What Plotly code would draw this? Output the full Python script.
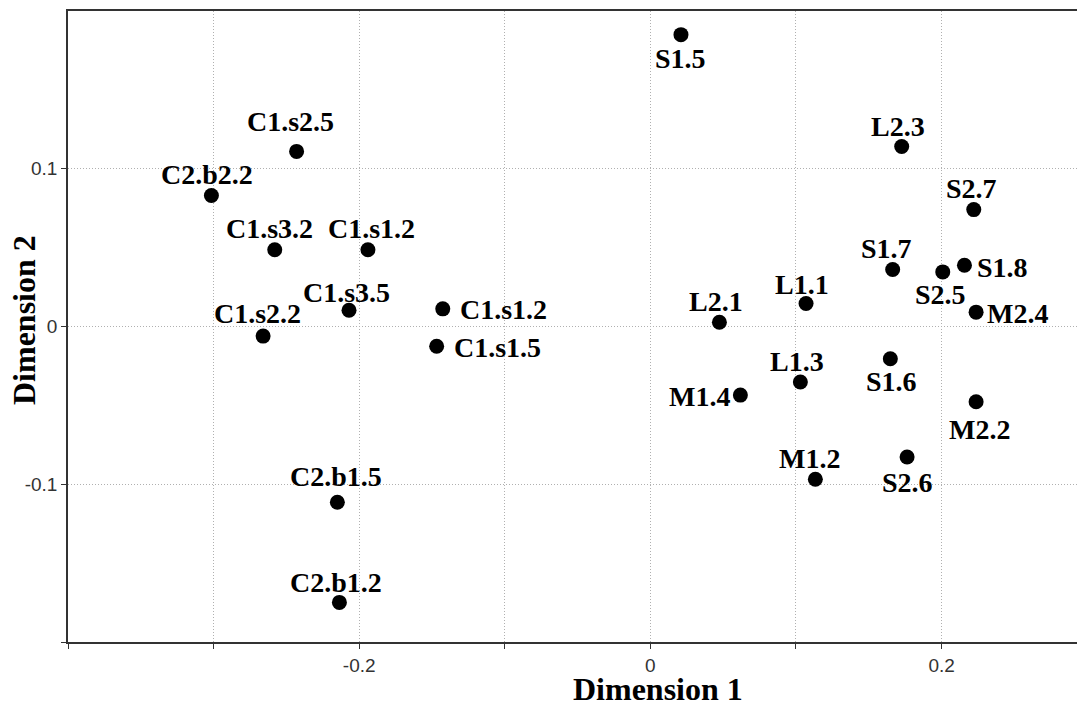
import plotly.graph_objects as go

labels = ["S1.5", "C1.s2.5", "C2.b2.2", "C1.s3.2", "C1.s1.2", "C1.s3.5", "C1.s2.2",
          "C1.s1.2", "C1.s1.5", "C2.b1.5", "C2.b1.2",
          "L2.3", "S2.7", "S1.7", "S2.5", "S1.8", "L1.1", "L2.1", "M2.4",
          "S1.6", "L1.3", "M1.4", "M2.2", "S2.6", "M1.2"]
dim1 = [0.021, -0.243, -0.3015, -0.258, -0.194, -0.207, -0.266,
        -0.1426, -0.1468, -0.215, -0.2136,
        0.1726, 0.2221, 0.1664, 0.2008, 0.2157, 0.1069, 0.0474, 0.2237,
        0.1648, 0.1030, 0.0618, 0.2237, 0.1763, 0.1133]
dim2 = [0.185, 0.111, 0.083, 0.0487, 0.0487, 0.0103, -0.0061,
        0.0112, -0.0125, -0.1114, -0.1749,
        0.1141, 0.0741, 0.0361, 0.0346, 0.0388, 0.0146, 0.0027, 0.0091,
        -0.0204, -0.0352, -0.0435, -0.0477, -0.0827, -0.0968]

# label offsets in screen pixels (dx right, dy down)
label_dx = [0, -6, -4, -5, 4, -3, -6, 61, 61, -1, -3,
            -4, -2, -6, -2, 38, -4, -3, 41, 1, -3, -41, 3, 0, -6]
label_dy = [23, -31, -22, -22, -22, -19, -24, 0, 0, -27, -21,
            -21, -22, -22, 22, 1, -20, -22, 0, 22, -22, 0, 27, 25, -22]

x_tickvals = [-0.4, -0.3, -0.2, -0.1, 0, 0.1, 0.2]
x_ticktext = ["", "", "-0.2", "", "0", "", "0.2"]
y_tickvals = [-0.2, -0.1, 0, 0.1]
y_ticktext = ["", "-0.1", "0", "0.1"]

fig = go.Figure()
fig.add_trace(go.Scatter(x=dim1, y=dim2, mode="markers",
                         marker=dict(size=15, color="black"),
                         hoverinfo="text", text=labels, showlegend=False))

for lab, xv, yv, dx, dy in zip(labels, dim1, dim2, label_dx, label_dy):
    fig.add_annotation(x=xv, y=yv, text="<b>" + lab + "</b>", showarrow=False,
                       xshift=dx, yshift=-dy - 1,
                       font=dict(family="Liberation Serif", size=28, color="black"),
                       xanchor="center", yanchor="middle")

axis_common = dict(showline=True, linecolor="#333333", linewidth=1.5,
                   ticks="outside", ticklen=5, tickcolor="#333333",
                   showgrid=True, gridcolor="#b0b0b0", griddash="1px,2px", gridwidth=1,
                   zeroline=False,
                   tickfont=dict(family="Liberation Sans", size=19, color="#333333"))

fig.update_xaxes(range=[-0.4, 0.293], tickvals=x_tickvals, ticktext=x_ticktext,
                 mirror=True, **axis_common)
fig.update_yaxes(range=[-0.2, 0.2], tickvals=y_tickvals, ticktext=y_ticktext,
                 mirror=False, **axis_common)

fig.add_annotation(x=(658 - 68) / 1009, y=-(689 - 642) / 631, xref="paper", yref="paper",
                   text="<b>Dimension 1</b>", showarrow=False, xanchor="center", yanchor="middle",
                   height=24, valign="middle",
                   font=dict(family="Liberation Serif", size=32, color="black"))
fig.add_annotation(x=-(68 - 24) / 1009, y=(642 - 320) / 631, xref="paper", yref="paper",
                   text="<b>Dimension 2</b>", showarrow=False, textangle=-90,
                   xanchor="center", yanchor="middle",
                   font=dict(family="Liberation Serif", size=32, color="black"))

fig.update_layout(width=1077, height=701,
                  margin=dict(l=68, r=0, t=11, b=59),
                  plot_bgcolor="white", paper_bgcolor="white")

fig.write_html("out.html", config={"displayModeBar": False},
               post_script="document.body.style.margin='0';document.body.style.overflow='hidden';")
